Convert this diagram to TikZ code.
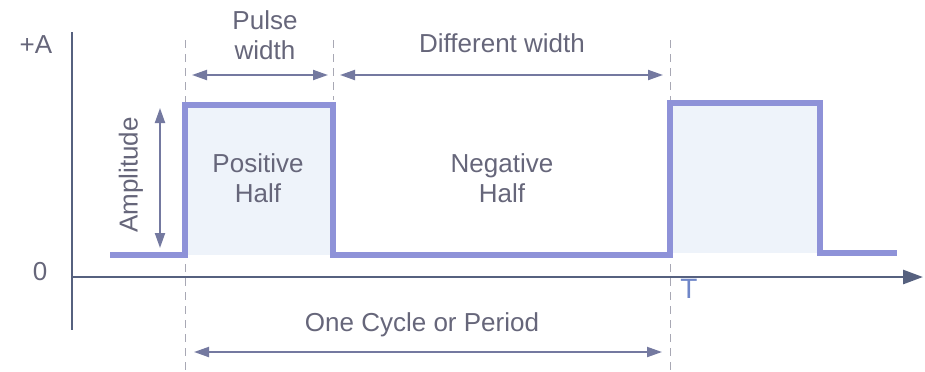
\documentclass[tikz,border=0pt]{standalone}
\usepackage{fontspec}
\setmainfont{Liberation Sans}
\usepackage{xcolor}
\usepackage{tikz}
\usetikzlibrary{arrows.meta,positioning}
\definecolor{waveBlue}{HTML}{8E92D8}
\definecolor{waveFill}{HTML}{EEF3FA}
\definecolor{dimGray}{HTML}{7479A0}
\definecolor{axisGray}{HTML}{56617F}
\definecolor{labelGray}{HTML}{66667A}
\definecolor{guideGray}{HTML}{A8A8B4}
\definecolor{markBlue}{HTML}{6F86C8}
\tikzset{
  wave/.style={line width=2.6pt, draw=waveBlue, line join=miter},
  pulse fill/.style={fill=waveFill, draw=none},
  axis line/.style={line width=1.1pt, draw=axisGray},
  axis arrow/.style={axis line, line width=1.4pt,
    -{Triangle[length=10pt,width=7pt]}},
  dim arrow/.style={{Triangle[length=7.5pt,width=5pt]}-{Triangle[length=7.5pt,width=5pt]},
    line width=1pt, draw=dimGray, fill=dimGray},
  guide/.style={draw=guideGray, line width=0.5pt, dash pattern=on 4pt off 3pt},
  wave label/.style={font=\fontsize{13}{15}\selectfont, text=labelGray,
    align=center, inner sep=0pt},
  small label/.style={font=\fontsize{14}{16}\selectfont, text=markBlue,
    inner sep=0pt}
}
\begin{document}
\begin{tikzpicture}[x=0.5pt, y=-0.5pt]
  \useasboundingbox (0,0) rectangle (925,371);
  % pulse bodies
  \fill[pulse fill] (185,105) rectangle (333,255);
  \fill[pulse fill] (670,103) rectangle (820,253);
  % guides
  \coordinate (riseTop) at (185,40);
  \coordinate (riseBot) at (185,371);
  \coordinate (fallTop) at (333,40);
  \coordinate (fallBot) at (333,100);
  \coordinate (endTop) at (670,40);
  \coordinate (endBot) at (670,371);
  \draw[guide] (riseTop) -- (riseBot);
  \draw[guide] (fallTop) -- (fallBot);
  \draw[guide] (endTop) -- (endBot);
  % axes
  \coordinate (yTop) at (72,32);
  \coordinate (yBot) at (72,330);
  \coordinate (xLeft) at (72,277);
  \coordinate (xRight) at (923,277);
  \draw[axis line] (yTop) -- (yBot);
  \draw[axis arrow] (xLeft) -- (xRight);
  % waveform
  \draw[wave] (110,255) -- (185,255) -- (185,105) -- (333,105) -- (333,255)
    -- (670,255) -- (670,103) -- (820,103) -- (820,253) -- (897,253);
  % labels
  \node[wave label] (plusA) at (36,45) {+A};
  \node[wave label] (zero) at (40,272) {0};
  \node[small label, anchor=north] (period) at (689,279) {T};
  \node[wave label] (pulseW) at (265,35) {Pulse\\width};
  \node[wave label] (diffW) at (502,43) {Different width};
  \node[wave label] (posHalf) at (258,178) {Positive\\Half};
  \node[wave label] (negHalf) at (502,178) {Negative\\Half};
  \node[wave label, rotate=90] (amp) at (131,175) {Amplitude};
  \node[wave label] (cycle) at (422,325) {One Cycle or Period};
  % dimension arrows
  \coordinate (pwL) at (192,75);
  \coordinate (pwR) at (328,75);
  \coordinate (dwL) at (340,75);
  \coordinate (dwR) at (663,75);
  \coordinate (ampT) at (160,108);
  \coordinate (ampB) at (160,248);
  \coordinate (perL) at (194,352);
  \coordinate (perR) at (662,352);
  \draw[dim arrow] (pwL) -- (pwR);
  \draw[dim arrow] (dwL) -- (dwR);
  \draw[dim arrow] (ampT) -- (ampB);
  \draw[dim arrow] (perL) -- (perR);
\end{tikzpicture}
\end{document}
